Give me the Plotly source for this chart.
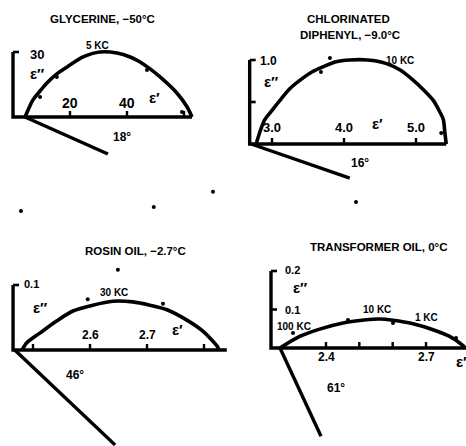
import plotly.graph_objects as go

W, H = 466, 446
INK = "#000000"
FONT = "Liberation Sans, Arial, sans-serif"

# ---------------- data: Cole-Cole arcs (eps', eps'') ----------------
# Glycerine
gly_e1 = [4.2, 5.6, 7.0, 9.5, 11.9, 15.4, 19.0, 24.6, 30.5, 36.5, 41.1, 44.6, 48.1, 51.6, 57.5, 61.1, 62.8]
gly_e2 = [0, 4.2, 7.9, 12.0, 15.7, 19.9, 23.1, 27.7, 30.0, 29.5, 27.7, 25.4, 22.2, 18.5, 11.1, 4.6, 0]
gly_pts_e1 = [9.5, 15.4, 47.0, 59.3]
gly_pts_e2 = [9.2, 18.5, 21.7, 2.3]
gly_alpha_e1 = [4.2, 33.3]
gly_alpha_e2 = [0, -17.1]

# Chlorinated diphenyl
cd_e1 = [2.78, 2.83, 2.90, 3.00, 3.11, 3.25, 3.39, 3.56, 3.71, 3.89, 4.08, 4.33, 4.58, 4.78, 4.96, 5.11, 5.24, 5.32, 5.38, 5.40, 5.42]
cd_e2 = [0, 0.14, 0.29, 0.40, 0.52, 0.66, 0.76, 0.86, 0.92, 0.98, 1.00, 1.00, 0.96, 0.88, 0.76, 0.64, 0.52, 0.40, 0.29, 0.14, 0]
cd_pts_e1 = [3.68, 5.35]
cd_pts_e2 = [0.857, 0.13]
cd_alpha_e1 = [2.71, 4.08]
cd_alpha_e2 = [0, -0.405]

# Rosin oil
ro_e1 = [2.481, 2.489, 2.512, 2.542, 2.570, 2.605, 2.640, 2.675, 2.705, 2.735, 2.770, 2.798, 2.823, 2.826]
ro_e2 = [0, 0.011, 0.026, 0.045, 0.060, 0.069, 0.075, 0.074, 0.069, 0.062, 0.046, 0.029, 0.006, 0]
ro_pts_e1 = [2.596, 2.728]
ro_pts_e2 = [0.078, 0.071]
ro_alpha_e1 = [2.468, 2.644]
ro_alpha_e2 = [0, -0.146]

# Transformer oil
tr_e1 = [2.262, 2.321, 2.381, 2.451, 2.521, 2.561, 2.601, 2.661, 2.721, 2.771, 2.811, 2.817]
tr_e2 = [0, 0.030, 0.049, 0.065, 0.0735, 0.0753, 0.072, 0.063, 0.0475, 0.030, 0.006, 0]
tr_pts_e1 = [2.301, 2.466, 2.601, 2.79]
tr_pts_e2 = [0.039, 0.073, 0.065, 0.026]
tr_alpha_e1 = [2.262, 2.385]
tr_alpha_e2 = [0, -0.229]

# axis ticks and labels
gly_xticks = [20, 40, 60]
gly_xlabels = ["20", "40", ""]
cd_xticks = [3.0, 4.0, 5.0]
cd_xlabels = ["3.0", "4.0", "5.0"]
ro_xticks = [2.5, 2.6, 2.7, 2.8]
ro_xlabels = ["", "2.6", "2.7", ""]
tr_xticks = [2.4, 2.5, 2.6, 2.7]
tr_xlabels = ["2.4", "", "", "2.7"]

# small scanned specks (paper fractions)
speck_x = [0.045, 0.330, 0.457, 0.764, 0.253, 0.708]
speck_y = [0.527, 0.536, 0.570, 0.547, 0.395, 0.870]


def span(p_a, v_a, p_b, v_b, size):
    """Axis range so that value v_a sits at pixel p_a and v_b at p_b."""
    s = (p_b - p_a) / (v_b - v_a)
    return [v_a - p_a / s, v_a + (size - p_a) / s]


def xr(k):
    return "x" if k == 1 else f"x{k}"


def yr(k):
    return "y" if k == 1 else f"y{k}"


panels = [
    dict(k=1, e1=gly_e1, e2=gly_e2, pe1=gly_pts_e1, pe2=gly_pts_e2, a1=gly_alpha_e1, a2=gly_alpha_e2,
         xrange=span(70, 20, 127, 40, W), yrange=span(H - 117, 0, H - 52, 30, H),
         x0=0, x1=62.8, ytop=30, yticks=[], ylab=[("30", 30, 15, -2)],
         xticks=gly_xticks, xlabels=gly_xlabels, xlab_shift=14, tsize=14,
         eps2=(8.4, 20.3), eps1=(49.8, 9.2), angle=("18°", 38.2, -9.2),
         freq=[("5 KC", 29.5, 33.2)]),
    dict(k=2, e1=cd_e1, e2=cd_e2, pe1=cd_pts_e1, pe2=cd_pts_e2, a1=cd_alpha_e1, a2=cd_alpha_e2,
         xrange=span(272, 3.0, 416, 5.0, W), yrange=span(H - 144, 0, H - 60, 1.0, H),
         x0=2.69, x1=5.42, ytop=1.0, yticks=[0.5], ylab=[("1.0", 1.0, 8, -1)],
         xticks=cd_xticks, xlabels=cd_xlabels, xlab_shift=17, tsize=13,
         eps2=(2.99, 0.74), eps1=(4.46, 0.24), angle=("16°", 4.22, -0.226),
         freq=[("10 KC", 4.78, 0.99)]),
    dict(k=3, e1=ro_e1, e2=ro_e2, pe1=ro_pts_e1, pe2=ro_pts_e2, a1=ro_alpha_e1, a2=ro_alpha_e2,
         xrange=span(90, 2.6, 147, 2.7, W), yrange=span(H - 350, 0, H - 285, 0.1, H),
         x0=2.465, x1=2.84, ytop=0.1, yticks=[], ylab=[("0.1", 0.1, 9, 1)],
         xticks=ro_xticks, xlabels=ro_xlabels, xlab_shift=15, tsize=12,
         eps2=(2.512, 0.065), eps1=(2.753, 0.031), angle=("46°", 2.574, -0.038),
         freq=[("30 KC", 2.642, 0.089)]),
    dict(k=4, e1=tr_e1, e2=tr_e2, pe1=tr_pts_e1, pe2=tr_pts_e2, a1=tr_alpha_e1, a2=tr_alpha_e2,
         xrange=span(326, 2.4, 426, 2.7, W), yrange=span(H - 348, 0, H - 271, 0.2, H),
         x0=2.235, x1=2.83, ytop=0.2, yticks=[0.1], ylab=[("0.2", 0.2, 12, 1), ("0.1", 0.1, 12, 0)],
         xticks=tr_xticks, xlabels=tr_xlabels, xlab_shift=-9, tsize=12,
         eps2=(2.322, 0.156), eps1=(2.805, -0.034), angle=("61°", 2.43, -0.104),
         freq=[("100 KC", 2.304, 0.057), ("10 KC", 2.553, 0.101), ("1 KC", 2.7, 0.078)]),
]

fig = go.Figure()
shapes, annotations = [], []
layout_axes = {}

for p in panels:
    k = p["k"]
    xa, ya = xr(k), yr(k)
    # arc
    fig.add_trace(go.Scatter(x=p["e1"], y=p["e2"], mode="lines", xaxis=xa, yaxis=ya,
                             line=dict(color=INK, width=3.6, shape="spline", smoothing=0.8),
                             hoverinfo="skip", showlegend=False))
    # measured points
    fig.add_trace(go.Scatter(x=p["pe1"], y=p["pe2"], mode="markers", xaxis=xa, yaxis=ya,
                             marker=dict(color=INK, size=4), cliponaxis=False,
                             hoverinfo="skip", showlegend=False))
    # alpha line
    fig.add_trace(go.Scatter(x=p["a1"], y=p["a2"], mode="lines", xaxis=xa, yaxis=ya,
                             line=dict(color=INK, width=3.4),
                             hoverinfo="skip", showlegend=False))

    # axes: vertical + horizontal as one path
    shapes.append(dict(type="path", xref=xa, yref=ya,
                       path=f"M {p['x0']},{p['ytop']} L {p['x0']},0 L {p['x1']},0",
                       line=dict(color=INK, width=3.4)))
    # hook at top of the vertical axis and intermediate y ticks
    for t in [p["ytop"]] + p["yticks"]:
        shapes.append(dict(type="line", xref=xa, yref=ya, xsizemode="pixel", xanchor=p["x0"],
                           x0=0, x1=6, y0=t, y1=t, line=dict(color=INK, width=2.6)))
    # x ticks pointing up
    for t in p["xticks"]:
        shapes.append(dict(type="line", xref=xa, yref=ya, ysizemode="pixel", yanchor=0,
                           y0=0, y1=6, x0=t, x1=t, line=dict(color=INK, width=2.4)))
    for t, lab in zip(p["xticks"], p["xlabels"]):
        if lab:
            annotations.append(dict(x=t, y=0, xref=xa, yref=ya, text=f"<b>{lab}</b>", showarrow=False,
                                    xanchor="center", yshift=p["xlab_shift"],
                                    font=dict(family=FONT, size=p["tsize"], color=INK)))
    for lab, v, dx, dy in p["ylab"]:
        annotations.append(dict(x=p["x0"], y=v, xref=xa, yref=ya, text=f"<b>{lab}</b>", showarrow=False,
                                xanchor="left", xshift=dx, yshift=dy,
                                font=dict(family=FONT, size=p["tsize"] - 1, color=INK)))
    annotations.append(dict(x=p["eps2"][0], y=p["eps2"][1], xref=xa, yref=ya, text="<b>ε″</b>",
                            showarrow=False, xanchor="center", font=dict(family=FONT, size=15, color=INK)))
    annotations.append(dict(x=p["eps1"][0], y=p["eps1"][1], xref=xa, yref=ya, text="<b>ε′</b>",
                            showarrow=False, xanchor="center", font=dict(family=FONT, size=15, color=INK)))
    annotations.append(dict(x=p["angle"][1], y=p["angle"][2], xref=xa, yref=ya,
                            text=f"<b>{p['angle'][0]}</b>", showarrow=False, xanchor="center",
                            font=dict(family=FONT, size=12, color=INK)))
    for lab, fx, fy in p["freq"]:
        annotations.append(dict(x=fx, y=fy, xref=xa, yref=ya, text=f"<b>{lab}</b>", showarrow=False,
                                xanchor="center", font=dict(family=FONT, size=10, color=INK)))

    xkey = "xaxis" if k == 1 else f"xaxis{k}"
    ykey = "yaxis" if k == 1 else f"yaxis{k}"
    layout_axes[xkey] = dict(domain=[0, 1], range=p["xrange"], visible=False, anchor=ya, fixedrange=True)
    layout_axes[ykey] = dict(domain=[0, 1], range=p["yrange"], visible=False, anchor=xa, fixedrange=True)

# specks on a plain unit frame
fig.add_trace(go.Scatter(x=speck_x, y=speck_y, mode="markers", xaxis="x5", yaxis="y5",
                         marker=dict(color=INK, size=4), hoverinfo="skip", showlegend=False))
layout_axes["xaxis5"] = dict(domain=[0, 1], range=[0, 1], visible=False, anchor="y5")
layout_axes["yaxis5"] = dict(domain=[0, 1], range=[0, 1], visible=False, anchor="x5")

# panel titles
titles = [
    ("GLYCERINE, −50°C", 102, 19),
    ("CHLORINATED", 348, 19),
    ("DIPHENYL, −9.0°C", 350, 35),
    ("ROSIN OIL, −2.7°C", 135, 251),
    ("TRANSFORMER OIL, 0°C", 379, 247),
]
for text, px, py in titles:
    annotations.append(dict(x=px / W, y=1 - py / H, xref="paper", yref="paper", text=f"<b>{text}</b>",
                            showarrow=False, xanchor="center", yanchor="middle",
                            font=dict(family=FONT, size=11.5, color=INK)))

# transparent plot areas so the stacked panels do not hide each other
fig.update_layout(width=W, height=H, margin=dict(l=0, r=0, t=0, b=0),
                  paper_bgcolor="white", plot_bgcolor="rgba(0,0,0,0)",
                  shapes=shapes, annotations=annotations, **layout_axes)

fig.write_html("out.html")
